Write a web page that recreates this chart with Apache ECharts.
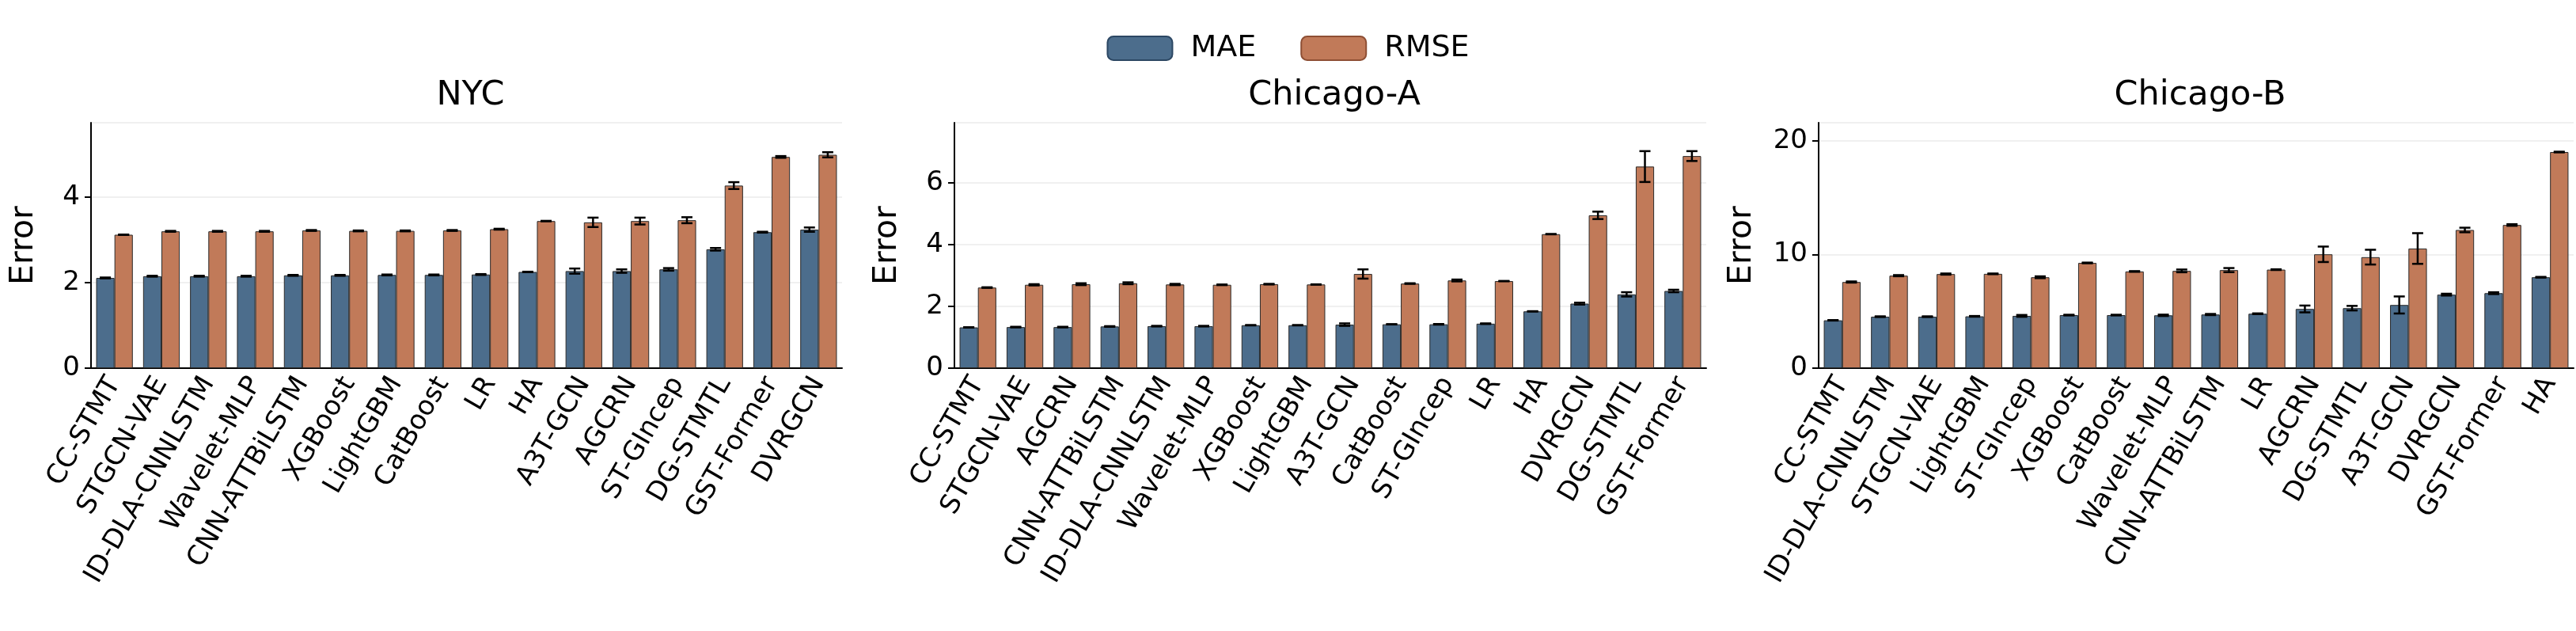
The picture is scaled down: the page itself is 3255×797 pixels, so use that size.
<!DOCTYPE html>
<html><head><meta charset="utf-8">
<script src="https://cdn.jsdelivr.net/npm/echarts@6/dist/echarts.min.js"></script>
<style>html,body{margin:0;padding:0;background:#fff}#c{width:3255px;height:797px}</style>
</head><body><div id="c"></div>
<script>
const titles = ['NYC','Chicago-A','Chicago-B'];
const catsNYC = ['CC-STMT','STGCN-VAE','ID-DLA-CNNLSTM','Wavelet-MLP','CNN-ATTBiLSTM','XGBoost','LightGBM','CatBoost','LR','HA','A3T-GCN','AGCRN','ST-GIncep','DG-STMTL','GST-Former','DVRGCN'];
const maeNYC = [2.11,2.15,2.15,2.15,2.17,2.17,2.18,2.18,2.19,2.25,2.27,2.27,2.31,2.78,3.18,3.24];
const maeErrNYC = [0.01,0.01,0.01,0.01,0.01,0.01,0.01,0.01,0.01,0.005,0.06,0.04,0.03,0.03,0.01,0.05];
const rmseNYC = [3.12,3.20,3.20,3.20,3.22,3.21,3.21,3.22,3.25,3.44,3.41,3.44,3.46,4.27,4.94,4.99];
const rmseErrNYC = [0.005,0.01,0.01,0.01,0.01,0.01,0.01,0.01,0.01,0.005,0.11,0.08,0.07,0.08,0.02,0.06];
const catsCA = ['CC-STMT','STGCN-VAE','AGCRN','CNN-ATTBiLSTM','ID-DLA-CNNLSTM','Wavelet-MLP','XGBoost','LightGBM','A3T-GCN','CatBoost','ST-GIncep','LR','HA','DVRGCN','DG-STMTL','GST-Former'];
const maeCA = [1.32,1.33,1.33,1.35,1.36,1.36,1.39,1.39,1.41,1.42,1.42,1.44,1.84,2.09,2.39,2.50];
const maeErrCA = [0.005,0.01,0.01,0.01,0.01,0.01,0.005,0.005,0.04,0.005,0.01,0.01,0.005,0.03,0.07,0.04];
const rmseCA = [2.61,2.70,2.72,2.75,2.71,2.70,2.72,2.71,3.05,2.74,2.84,2.82,4.34,4.95,6.53,6.87];
const rmseErrCA = [0.01,0.02,0.03,0.03,0.02,0.01,0.01,0.005,0.15,0.01,0.03,0.005,0.005,0.12,0.5,0.16];
const catsCB = ['CC-STMT','ID-DLA-CNNLSTM','STGCN-VAE','LightGBM','ST-GIncep','XGBoost','CatBoost','Wavelet-MLP','CNN-ATTBiLSTM','LR','AGCRN','DG-STMTL','A3T-GCN','DVRGCN','GST-Former','HA'];
const maeCB = [4.21,4.53,4.53,4.56,4.60,4.67,4.67,4.65,4.72,4.79,5.21,5.28,5.56,6.47,6.60,8.0];
const maeErrCB = [0.02,0.03,0.03,0.03,0.08,0.03,0.03,0.06,0.05,0.03,0.3,0.2,0.75,0.08,0.08,0.03];
const rmseCB = [7.58,8.14,8.28,8.30,8.00,9.26,8.51,8.56,8.63,8.67,10.02,9.77,10.53,12.16,12.60,19.02];
const rmseErrCB = [0.05,0.05,0.05,0.03,0.08,0.03,0.03,0.12,0.18,0.03,0.68,0.65,1.35,0.2,0.07,0.03];
const yMax = [5.74, 7.95, 21.6];
const yInt = [2, 2, 10];

const panels = [
  [catsNYC, maeNYC, maeErrNYC, rmseNYC, rmseErrNYC],
  [catsCA, maeCA, maeErrCA, rmseCA, rmseErrCA],
  [catsCB, maeCB, maeErrCB, rmseCB, rmseErrCB]
];
const gridPos = [[115,949],[1206,950],[2298,954]];
const C1 = '#4c6d8c', C2 = '#c17a59';
const FONT = 'DejaVu Sans';
const BARFRAC = 0.39;

function errSeries(gi, vals, errs, side) {
  return {
    type: 'custom', xAxisIndex: gi, yAxisIndex: gi, z: 10, silent: true,
    data: vals.map((v,i)=>[i, v, errs[i]]),
    renderItem: function(params, api) {
      const i = api.value(0), v = api.value(1), e = api.value(2);
      const bw = api.size([1,0])[0];
      const off = side * bw * BARFRAC / 2;
      const top = api.coord([i, v+e]), bot = api.coord([i, v-e]);
      const x = top[0] + off, cap = 7;
      const st = {stroke:'#000', lineWidth:2.5};
      return {type:'group', children:[
        {type:'line', shape:{x1:x,y1:top[1],x2:x,y2:bot[1]}, style:st},
        {type:'line', shape:{x1:x-cap,y1:top[1],x2:x+cap,y2:top[1]}, style:st},
        {type:'line', shape:{x1:x-cap,y1:bot[1],x2:x+cap,y2:bot[1]}, style:st}
      ]};
    }
  };
}

const grid=[], xAxis=[], yAxis=[], series=[], title=[];
panels.forEach((p,gi)=>{
  const [cats, mae, maeE, rmse, rmseE] = p;
  grid.push({left:gridPos[gi][0], width:gridPos[gi][1], top:155, height:310});
  title.push({text:titles[gi], left:gridPos[gi][0]+gridPos[gi][1]/2, top:94, textAlign:'center',
    textStyle:{fontFamily:FONT, fontSize:43, fontWeight:'normal', color:'#000'}});
  xAxis.push({type:'category', gridIndex:gi, data:cats,
    axisLine:{lineStyle:{color:'#000', width:2}},
    axisTick:{alignWithLabel:true, length:10, lineStyle:{color:'#000', width:2}},
    axisLabel:{rotate:60, interval:0, fontFamily:FONT, fontSize:34, color:'#000', margin:14},
    splitLine:{show:false}});
  yAxis.push({type:'value', gridIndex:gi, min:0, max:yMax[gi], interval:yInt[gi],
    name:'Error', nameLocation:'middle', nameGap: gi==2?76:64,
    nameTextStyle:{fontFamily:FONT, fontSize:41, color:'#000'},
    axisLine:{show:true, lineStyle:{color:'#000', width:2}},
    axisTick:{show:true, length:8, lineStyle:{color:'#000', width:2}},
    axisLabel:{fontFamily:FONT, fontSize:34, color:'#000', margin:14,
      showMaxLabel:false},
    splitLine:{lineStyle:{color:'#ebebeb', width:1.5}}});
  series.push({type:'bar', name:'MAE', xAxisIndex:gi, yAxisIndex:gi, data:mae,
    barWidth:(BARFRAC*100)+'%', barGap:'0%',
    itemStyle:{color:C1, borderColor:'#2a2a2a', borderWidth:1}});
  series.push({type:'bar', name:'RMSE', xAxisIndex:gi, yAxisIndex:gi, data:rmse,
    barWidth:(BARFRAC*100)+'%', barGap:'0%',
    itemStyle:{color:C2, borderColor:'#2a2a2a', borderWidth:1}});
  series.push(errSeries(gi, mae, maeE, -1));
  series.push(errSeries(gi, rmse, rmseE, 1));
});

const chart = echarts.init(document.getElementById('c'));
chart.setOption({
  animation:false, backgroundColor:'#fff',
  title,
  legend:{data:[{name:'MAE', itemStyle:{borderColor:'#2c4763', borderWidth:2}},
                {name:'RMSE', itemStyle:{borderColor:'#8e4f34', borderWidth:2}}],
    top:37, left:'center', itemWidth:82, itemHeight:30, itemGap:56,
    textStyle:{fontFamily:FONT, fontSize:38, color:'#000', padding:[0,0,0,18]}},
  grid, xAxis, yAxis, series
});
</script></body></html>
